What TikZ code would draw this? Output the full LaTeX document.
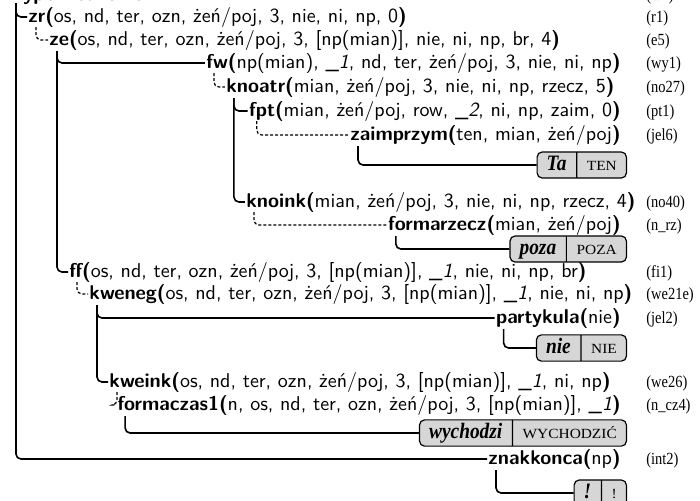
\documentclass[tikz,border=0pt]{standalone}
\usepackage{fontspec}
\newfontfamily\tagfont[FakeStretch=0.85]{Liberation Serif}
\newfontfamily\formfont[FakeStretch=0.88]{Liberation Serif}
\newfontfamily\lemmafont[FakeStretch=1.1]{Liberation Serif}
\usetikzlibrary{calc,shapes.multipart}

% category with its argument list: bold name and brackets
\newcommand\cat[2]{\textbf{#1(}#2\textbf{)}}
\newcommand\argvar[1]{\_\textit{#1}}
% leaf cells: word form and lemma
\newcommand\wform[1]{{\formfont\fontsize{11}{12}\selectfont\bfseries\itshape\rule[-2.5pt]{0pt}{10pt}#1}}
\newcommand\lemma[1]{{\lemmafont\fontsize{7}{8}\selectfont\rule[-2.5pt]{0pt}{10pt}#1}}

\tikzset{
  cat/.style={anchor=west, inner xsep=0.5pt, inner ysep=0pt,
    text height=7.5pt, text depth=2.5pt, font=\sffamily},
  rcat/.style={cat, anchor=east},
  rtag/.style={anchor=base west, inner sep=0pt,
    font=\tagfont\fontsize{8.5}{10}\selectfont},
  link/.style={line width=0.8pt, rounded corners=2.5pt},
  headlink/.style={link, line width=0.6pt, dash pattern=on 1.5pt off 1pt},
  leaf/.style={rectangle split, rectangle split horizontal,
    rectangle split parts=2, draw, line width=0.6pt, fill=black!16,
    rounded corners=2.5pt, inner xsep=4.8pt, inner ysep=1.5pt, anchor=east},
}

\begin{document}
\begin{tikzpicture}[x=0.5pt,y=-0.5pt]
\useasboundingbox (0,0) rectangle (700,500);

% root
\node[cat] (root) at (7,-5) {\textbf{wypowiedzenie}};
\node[rtag] (troot) at (646,0) {(w1)};

% left column of nodes
\node[cat] (zr) at (27,17) {\cat{zr}{os, nd, ter, ozn, żeń/poj, 3, nie, ni, np, 0}};
\node[rtag] (tzr) at (646,22) {(r1)};
\node[cat] (ze) at (48,40) {\cat{ze}{os, nd, ter, ozn, żeń/poj, 3, [np(mian)], nie, ni, np, br, 4}};
\node[rtag] (tze) at (646,45) {(e5)};

% subject branch
\node[rcat] (fw) at (622,63) {\cat{fw}{np(mian), \argvar{1}, nd, ter, żeń/poj, 3, nie, ni, np}};
\node[rtag] (tfw) at (646,68) {(wy1)};
\node[cat] (knoatr) at ($(fw.west)+(20,24)$) {\cat{knoatr}{mian, żeń/poj, 3, nie, ni, np, rzecz, 5}};
\node[rtag] (tknoatr) at (646,92) {(no27)};
\node[rcat] (fpt) at (622,111) {\cat{fpt}{mian, żeń/poj, row, \argvar{2}, ni, np, zaim, 0}};
\node[rtag] (tfpt) at (646,116) {(pt1)};
\node[rcat] (zaim) at (622,135) {\cat{zaimprzym}{ten, mian, żeń/poj}};
\node[rtag] (tzaim) at (646,140) {(jel6)};
\node[leaf] (ta) at (627,165) {\wform{Ta}\nodepart{two}\lemma{TEN}};

\node[cat] (knoink) at ($(knoatr.west)+(20,115)$) {\cat{knoink}{mian, żeń/poj, 3, nie, ni, np, rzecz, 4}};
\node[rtag] (tknoink) at (646,207) {(no40)};
\node[rcat] (formarz) at (622,225) {\cat{formarzecz}{mian, żeń/poj}};
\node[rtag] (tformarz) at (646,230) {(n\_rz)};
\node[leaf] (poza) at (627,249) {\wform{poza}\nodepart{two}\lemma{POZA}};

% predicate branch
\node[cat] (ff) at (68,272) {\cat{ff}{os, nd, ter, ozn, żeń/poj, 3, [np(mian)], \argvar{1}, nie, ni, np, br}};
\node[rtag] (tff) at (646,277) {(fi1)};
\node[cat] (kweneg) at (88,294) {\cat{kweneg}{os, nd, ter, ozn, żeń/poj, 3, [np(mian)], \argvar{1}, nie, ni, np}};
\node[rtag] (tkweneg) at (646,299) {(we21e)};
\node[rcat] (party) at (622,318) {\cat{partykula}{nie}};
\node[rtag] (tparty) at (646,323) {(jel2)};
\node[leaf] (nie) at (627,348) {\wform{nie}\nodepart{two}\lemma{NIE}};
\node[cat] (kweink) at (108,382) {\cat{kweink}{os, nd, ter, ozn, żeń/poj, 3, [np(mian)], \argvar{1}, ni, np}};
\node[rtag] (tkweink) at (646,387) {(we26)};
\node[rcat] (formacz) at (622,405) {\cat{formaczas1}{n, os, nd, ter, ozn, żeń/poj, 3, [np(mian)], \argvar{1}}};
\node[rtag] (tformacz) at (646,410) {(n\_cz4)};
\node[leaf] (wych) at (627,433) {\wform{wychodzi}\nodepart{two}\lemma{WYCHODZIĆ}};

% final punctuation
\node[rcat] (znak) at (622,459) {\cat{znakkonca}{np}};
\node[rtag] (tznak) at (646,464) {(int2)};
\node[leaf] (excl) at (627,493) {\wform{!}\nodepart{two}\lemma{!}};

% connectors
\draw[link] ($(root.west)+(9,8)$) |- (zr.west);
\draw[link] ($(root.west)+(9,8)$) |- (znak.west);
\draw[headlink] ($(zr.west)+(9,10)$) |- (ze.west);
\draw[link] ($(ze.west)+(9,11)$) |- (fw.west);
\draw[link] ($(ze.west)+(9,11)$) |- (ff.west);
\draw[headlink] ($(fw.west)+(9,10)$) |- (knoatr.west);
\draw[link] ($(knoatr.west)+(9,11)$) |- (fpt.west);
\draw[link] ($(knoatr.west)+(9,11)$) |- (knoink.west);
\draw[headlink] ($(fpt.west)+(9,10)$) |- (zaim.west);
\draw[link] ($(zaim.west)+(9,11)$) |- (ta.west);
\draw[headlink] ($(knoink.west)+(9,10)$) |- (formarz.west);
\draw[link] ($(formarz.west)+(9,11)$) |- (poza.west);
\draw[headlink] ($(ff.west)+(9,10)$) |- (kweneg.west);
\draw[link] ($(kweneg.west)+(9,11)$) |- (party.west);
\draw[link] ($(kweneg.west)+(9,11)$) |- (kweink.west);
\draw[link] ($(party.west)+(9,11)$) |- (nie.west);
\draw[headlink] ($(kweink.west)+(9,10)$) |- (formacz.west);
\draw[link] ($(formacz.west)+(9,11)$) |- (wych.west);
\draw[link] ($(znak.west)+(9,11)$) |- (excl.west);
\end{tikzpicture}
\end{document}
